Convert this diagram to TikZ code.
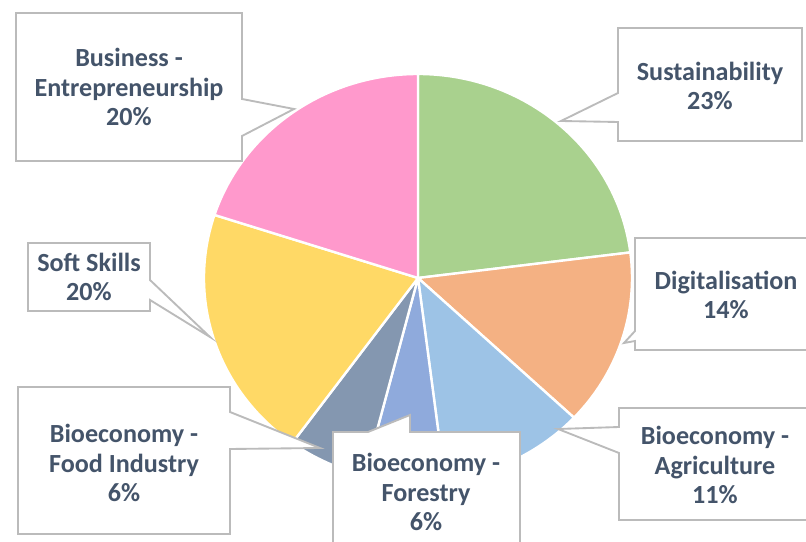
\documentclass[tikz,border=0pt]{standalone}
\usepackage{fontspec}
\setmainfont{Carlito}
\definecolor{cSust}{HTML}{A9D18E}
\definecolor{cDigit}{HTML}{F4B183}
\definecolor{cAgri}{HTML}{9DC3E6}
\definecolor{cForest}{HTML}{8FAADC}
\definecolor{cFood}{HTML}{8497B0}
\definecolor{cSoft}{HTML}{FFD966}
\definecolor{cBusiness}{HTML}{FF99CC}
\definecolor{boxgray}{HTML}{BBBBBB}
\definecolor{txtgray}{HTML}{44546A}
\begin{document}
\begin{tikzpicture}[x=0.75pt, y=0.75pt, line join=round,
		slice/.style={draw=white, line width=1.8pt},
		callout/.style={draw=boxgray, fill=white, line width=1.4pt, line join=miter},
		lbl/.style={align=center, text=txtgray, font=\fontsize{19.6}{21.8}\selectfont\bfseries}]
			\useasboundingbox (0,0) rectangle (806,542);
			% pie slices, clockwise from the top
			\foreach \a/\b/\c in {90/7.2/cSust, 7.2/-43.2/cDigit, -43.2/-82.8/cAgri, -82.8/-104.4/cForest, -104.4/-126/cFood, -126/-198/cSoft, -198/-270/cBusiness}
				\filldraw[slice, fill=\c] (418,264) -- ++(\a:214 and 204) arc[start angle=\a, end angle=\b, x radius=214, y radius=204] -- cycle;
			% callout boxes
			\draw[callout] (16,529) -- (242,529) -- (242,443) -- (294,433) -- (242,406) -- (242,381) -- (16,381) -- cycle;
			\draw[callout] (618,514) -- (802,514) -- (802,401) -- (618,401) -- (618,420) -- (561,421) -- (618,449) -- cycle;
			\draw[callout] (635,304) -- (817,304) -- (817,192) -- (635,192) -- (635,201) -- (624,199) -- (635,211) -- cycle;
			\draw[callout] (619,134) -- (812,134) -- (812,22) -- (619,22) -- (619,89) -- (558,113) -- (619,115) -- cycle;
			\draw[callout] (333,110) -- (368,110) -- (410,127) -- (410,110) -- (520,110) -- (520,-15) -- (333,-15) -- cycle;
			\draw[callout] (18,155) -- (230,155) -- (230,130) -- (320,94) -- (230,93) -- (230,8) -- (18,8) -- cycle;
			\draw[callout] (28,299) -- (150,299) -- (150,262) -- (210,205) -- (150,242) -- (150,231) -- (28,231) -- cycle;
			% labels
			\node[lbl] (business) at (129,455) {Business -\\Entrepreneurship\\20\%};
			\node[lbl] (sust) at (710,456) {Sustainability\\23\%};
			\node[lbl] (digit) at (726,247) {Digitalisation\\14\%};
			\node[lbl] (agri) at (715,77) {Bioeconomy -\\Agriculture\\11\%};
			\node[lbl] (forest) at (426,50) {Bioeconomy -\\Forestry\\6\%};
			\node[lbl] (food) at (124,79) {Bioeconomy -\\Food Industry\\6\%};
			\node[lbl] (soft) at (89,265) {Soft Skills\\20\%};
		\end{tikzpicture}
\end{document}
